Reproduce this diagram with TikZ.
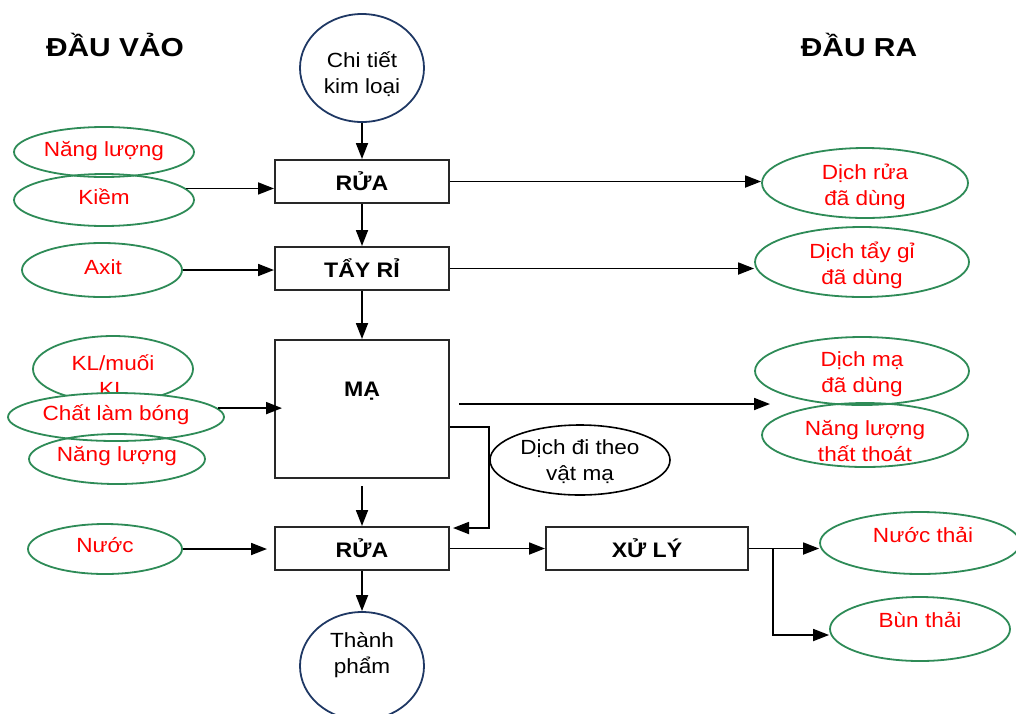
\documentclass[tikz,border=0pt]{standalone}
\usepackage{fontspec}
\setmainfont{Liberation Sans}[FakeStretch=1.1]
\newfontfamily\headfont{Liberation Sans}[FakeStretch=1.15]
\usetikzlibrary{shapes.geometric,arrows.meta}
\definecolor{egreen}{RGB}{46,139,87}
\definecolor{cblue}{RGB}{31,56,100}
\definecolor{bordergray}{RGB}{40,40,40}
\begin{document}
\begin{tikzpicture}[x=1pt,y=-1pt,
  arr/.style={-{Triangle[length=16pt,width=12pt]}, line width=1.8pt, draw=black},
  box/.style={draw=bordergray, line width=2pt, minimum width=174pt, minimum height=43pt,
    inner sep=0pt, font=\fontsize{21}{24}\selectfont\bfseries},
  oval/.style={ellipse, draw=egreen, line width=1.8pt, inner sep=0pt},
  otext/.style={text=red, align=center, font=\fontsize{20.5}{26}\selectfont, inner sep=0pt},
  endpt/.style={ellipse, draw=cblue, line width=1.8pt, inner sep=0pt,
    minimum width=124pt, minimum height=108pt},
  ctext/.style={text=black, align=center, font=\fontsize{20.5}{26}\selectfont, inner sep=0pt},
  head/.style={font=\headfont\bfseries\fontsize{26}{30}\selectfont, inner sep=0pt}
]
\useasboundingbox (0,0) rectangle (1016,713);
\clip (0,0) rectangle (1016,713);

% headings
\node[head] (hin) at (115,45) {ĐẦU VẢO};
\node[head] (hout) at (859,45) {ĐẦU RA};

% main process column
\node[endpt] (src) at (362,68) {};
\node[ctext] (srct) at (362,74) {Chi tiết\\kim loại};
\node[box] (rua1) at (362,181.5) {RỬA};
\node[box] (tay) at (362,268.5) {TẨY RỈ};
\node[box, minimum height=138pt] (ma) at (362,409) {};
\node[font=\fontsize{21}{24}\selectfont\bfseries, inner sep=0pt] (mat) at (362,391) {MẠ};
\node[box] (rua2) at (362,548.5) {RỬA};
\node[box, minimum width=202pt] (xl) at (647,548.5) {XỬ LÝ};
\node[endpt] (prod) at (362,666) {};
\node[ctext] (prodt) at (362,655) {Thành\\phẩm};

% inputs
\node[oval, minimum width=180pt, minimum height=50pt] (nl1) at (104,152) {};
\node[otext] (nl1t) at (104,151) {Năng lượng};
\node[oval, minimum width=180pt, minimum height=52pt] (kiem) at (104,200) {};
\node[otext] (kiemt) at (104,197) {Kiềm};
\node[oval, minimum width=160pt, minimum height=54pt] (axit) at (102,270) {};
\node[otext] (axitt) at (103,267) {Axit};
\node[oval, minimum width=160pt, minimum height=66pt] (kl) at (113,369) {};
\node[otext] (klt) at (113,376) {KL/muối\\KL};
\node[oval, fill=white, minimum width=216pt, minimum height=48pt] (clb) at (116,417) {};
\node[otext] (clbt) at (116,415) {Chất làm bóng};
\node[oval, minimum width=176pt, minimum height=50pt] (nl2) at (117,459) {};
\node[otext] (nl2t) at (117,456) {Năng lượng};
\node[oval, minimum width=154pt, minimum height=50pt] (nuoc) at (105,549) {};
\node[otext] (nuoct) at (105,545) {Nước};

% outputs
\node[oval, minimum width=206pt, minimum height=70pt] (dr) at (865,183) {};
\node[otext] (drt) at (865,187) {Dịch rửa\\đã dùng};
\node[oval, minimum width=214pt, minimum height=70pt] (dtg) at (862,262) {};
\node[otext] (dtgt) at (862,265) {Dịch tẩy gỉ\\đã dùng};
\node[oval, minimum width=214pt, minimum height=68pt] (dm) at (862,371) {};
\node[otext] (dmt) at (862,374) {Dịch mạ\\đã dùng};
\node[oval, minimum width=206pt, minimum height=64pt] (nltt) at (865,435) {};
\node[otext] (nlttt) at (865,441) {Năng lượng\\thất thoát};
\node[oval, minimum width=200pt, minimum height=62pt] (nt) at (920,543) {};
\node[otext] (ntt) at (923,535) {Nước thải};
\node[oval, minimum width=180pt, minimum height=64pt] (bt) at (920,629) {};
\node[otext] (btt) at (920,620) {Bùn thải};

% carry-over solution
\node[ellipse, draw=black, line width=1.6pt, inner sep=0pt, minimum width=180pt, minimum height=70pt] (dv) at (580,460) {};
\node[ctext] (dvt) at (580,462) {Dịch đi theo\\vật mạ};

% main flow
\draw[arr] (src) -- (rua1);
\draw[arr] (rua1) -- (tay);
\draw[arr] (tay) -- (ma);
\draw[arr] ([yshift=-7pt]ma.south) -- (rua2.north);
\draw[arr] (rua2) -- (prod);
\draw[arr] (rua2) -- (xl);

% inputs into the process
\draw[arr] (kiem.8) -- (kiem.8 -| rua1.west);
\draw[arr] (axit.east) -- (axit.east -| tay.west);
\draw[arr] (clb.5) -- ([xshift=8pt]clb.5 -| ma.west);
\draw[arr, shorten >=7pt] (nuoc.east) -- (nuoc.east -| rua2.west);

% outputs from the process
\draw[arr] (rua1.east) -- (rua1.east -| dr.west);
\draw[arr] (tay.east) -- (tay.east -| dtg.west);
\coordinate (maout) at ([xshift=9pt,yshift=5pt]ma.east);
\coordinate (dmin) at (770,404);
\draw[arr] (maout) -- (dmin);

% drag-out loop back to the rinse
\coordinate (fbtop) at ([yshift=-18pt]ma.east);
\coordinate (fbend) at ([xshift=3pt,yshift=-2pt]rua2.north east);
\draw[arr] (fbtop) -- (fbtop -| dv.west) -- (dv.west |- fbend) -- (fbend);

% treatment outputs
\coordinate (br) at ([xshift=24pt]xl.east);
\draw[arr] (xl.east) -- (xl.east -| nt.west);
\draw[arr] (br) |- ([yshift=-6pt]bt.west);
\end{tikzpicture}
\end{document}
